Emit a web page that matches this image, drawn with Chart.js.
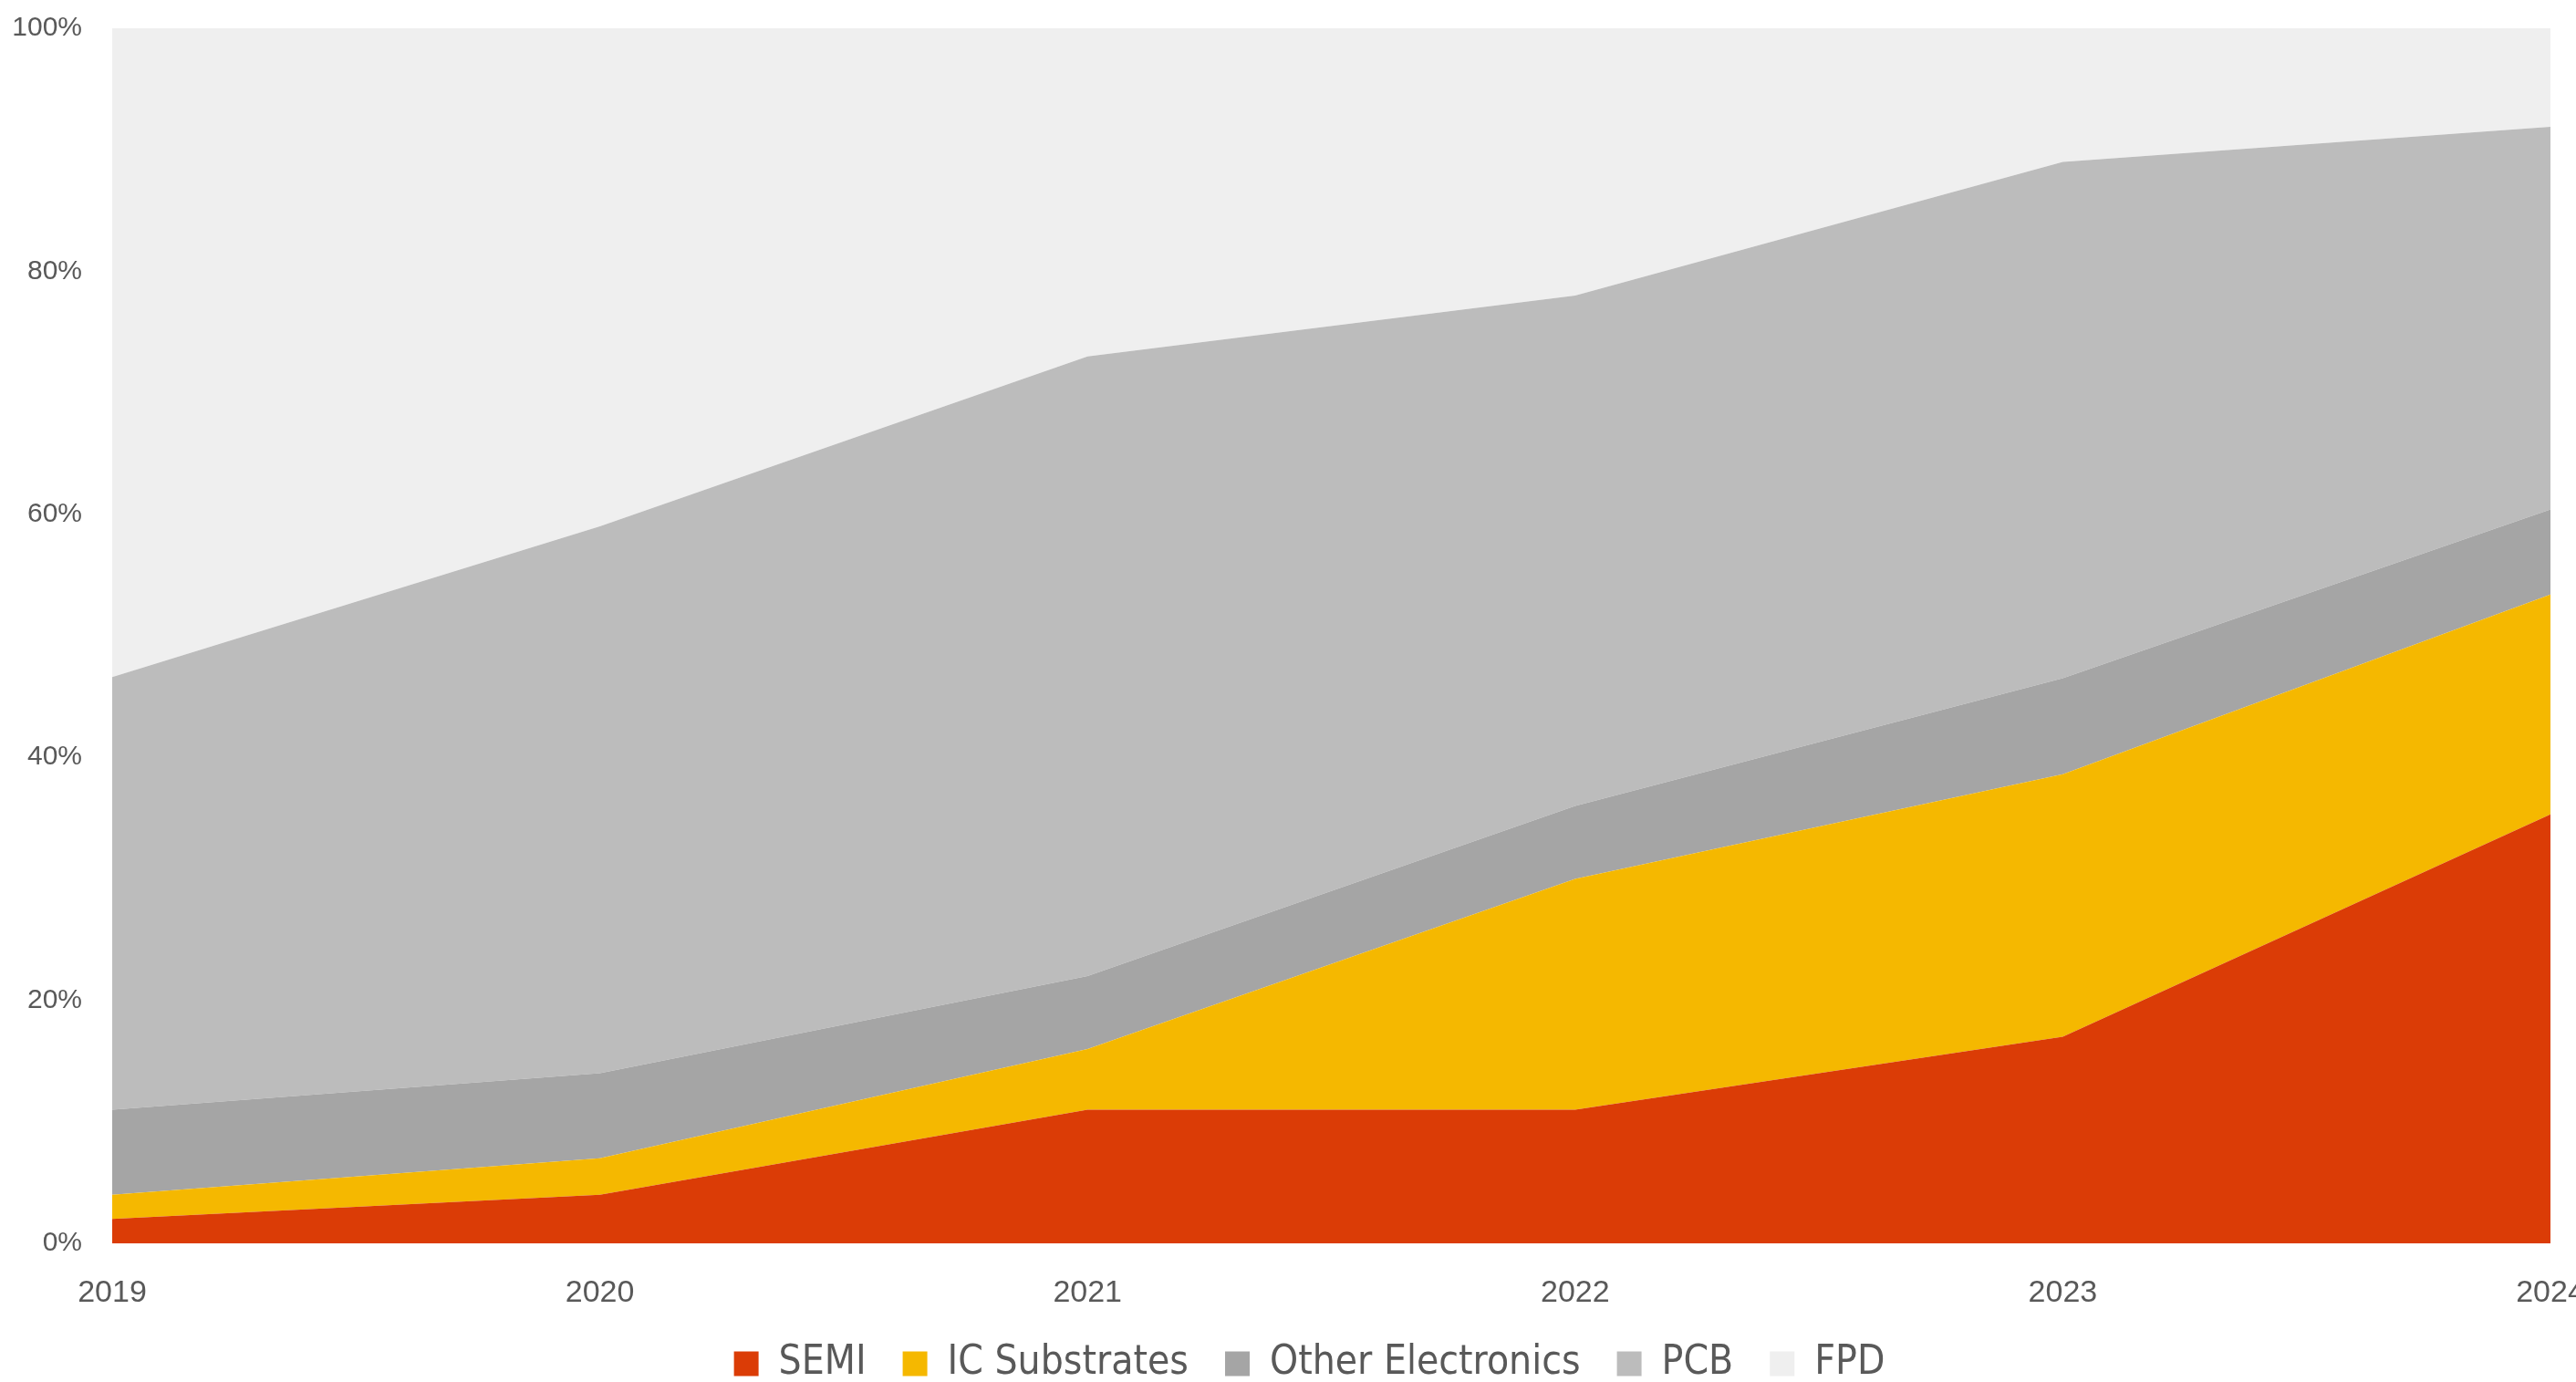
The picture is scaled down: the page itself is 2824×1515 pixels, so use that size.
<!DOCTYPE html>
<html>
<head>
<meta charset="utf-8">
<script src="https://cdn.jsdelivr.net/npm/chart.js@4.4.1/dist/chart.umd.min.js"></script>
<style>
  html, body { margin: 0; padding: 0; background: #ffffff; }
  #wrap { width: 2824px; height: 1515px; position: relative; }
</style>
</head>
<body>
<div id="wrap"><canvas id="c"></canvas></div>
<script>
const years = ['2019', '2020', '2021', '2022', '2023', '2024'];
const semi = [2, 4, 11, 11, 17, 35.3];
const icSubstrates = [2, 3, 5, 19, 21.6, 18.1];
const otherElectronics = [7, 7, 6, 6, 7.9, 7];
const pcb = [35.6, 45, 51, 42, 42.5, 31.5];
const fpd = [53.4, 41, 27, 22, 11, 8.1];
const yTicks = [0, 20, 40, 60, 80, 100];

const seriesNames = ['SEMI', 'IC Substrates', 'Other Electronics', 'PCB', 'FPD'];
const seriesColors = ['#DB3C06', '#F5B800', '#A5A5A5', '#BCBCBC', '#EFEFEF'];
const seriesData = [semi, icSubstrates, otherElectronics, pcb, fpd];

const datasets = seriesData.map((d, i) => ({
  label: seriesNames[i],
  data: d,
  backgroundColor: seriesColors[i],
  borderColor: seriesColors[i],
  borderWidth: 0,
  pointRadius: 0,
  pointHoverRadius: 0,
  tension: 0,
  fill: i === 0 ? 'origin' : '-1'
}));

const axisFont = "'Liberation Sans', Arial, sans-serif";
const legendFont = "'Liberation Sans Narrow', 'DejaVu Sans Condensed', 'Roboto Condensed', 'Liberation Sans', sans-serif";

const legendShift = {
  id: 'legendShift',
  afterLayout(chart) {
    if (chart.legend) {
      chart.legend.left -= 24;
      chart.legend.right -= 24;
    }
  }
};

new Chart(document.getElementById('c'), {
  type: 'line',
  data: { labels: years, datasets },
  plugins: [legendShift],
  options: {
    responsive: true,
    maintainAspectRatio: false,
    animation: false,
    layout: { padding: { top: 31, right: 28, bottom: -12, left: 0 } },
    plugins: {
      tooltip: { enabled: false },
      legend: {
        position: 'bottom',
        fullSize: false,
        labels: {
          boxWidth: 27,
          boxHeight: 27,
          padding: 40,
          color: '#595959',
          font: { family: legendFont, size: 44 }
        }
      }
    },
    scales: {
      x: {
        offset: false,
        grid: { display: false, drawTicks: false },
        border: { display: false },
        ticks: {
          color: '#595959',
          font: { family: axisFont, size: 34 },
          padding: 34,
          maxRotation: 0,
          autoSkip: false
        },
        afterFit: (s) => {
          s.paddingRight = 0;
          s.height = 70;
          s._computeLabelArea = () => undefined;
        }
      },
      y: {
        stacked: true,
        min: 0,
        max: 100,
        grid: { display: false, drawTicks: false },
        border: { display: false },
        afterBuildTicks: (s) => { s.ticks = yTicks.map(v => ({ value: v })); },
        ticks: {
          color: '#595959',
          font: { family: axisFont, size: 30 },
          padding: 33,
          callback: (v) => v + '%'
        },
        afterFit: (s) => { s.width = 123; s.paddingTop = 0; s.paddingBottom = 0; }
      }
    }
  }
});
</script>
</body>
</html>
